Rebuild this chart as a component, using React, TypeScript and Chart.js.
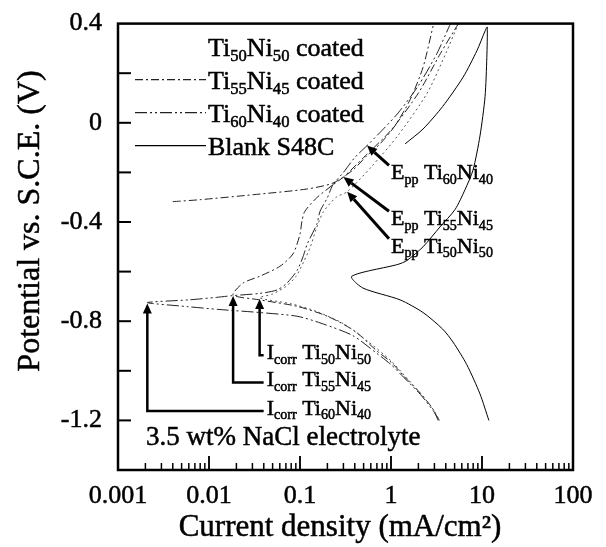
import React, { useEffect, useRef } from 'react';
import { Chart, registerables } from 'chart.js';
Chart.register(...registerables);

const FONT = '"Liberation Serif", "Times New Roman", serif';
const TEXT_STROKE = 0.5;

// ---- Data (current density mA/cm2, potential V vs SCE) ----
const blankI = [11.9, 9.5, 6.8, 4.8, 3.7, 2.25, 1.26, 0.49, 0.37, 1.19, 1.5, 2.25, 3.45, 5.05, 6.5, 7.96, 9.5, 10.8, 11.3, 11.4, 10.8, 8.8, 6.2, 3.7, 2.25, 1.43];
const blankV = [-1.2, -1.093, -0.975, -0.884, -0.832, -0.765, -0.714, -0.666, -0.619, -0.571, -0.555, -0.5, -0.42, -0.35, -0.27, -0.191, -0.053, 0.105, 0.264, 0.386, 0.37, 0.291, 0.184, 0.066, -0.025, -0.085];

const ti60I = [3.4, 2.9, 2.1, 1.5, 1.0, 0.7, 0.38, 0.17, 0.093, 0.036, 0.0132, 0.0057, 0.0021, 0.006, 0.012, 0.018, 0.036, 0.056, 0.072, 0.093, 0.108, 0.12, 0.153, 0.166, 0.2, 0.23, 0.3, 0.4, 0.545, 0.8, 1.2, 2.0, 3.2, 4.5];
const ti60V = [-1.2, -1.16, -1.095, -1.04, -0.975, -0.93, -0.858, -0.808, -0.78, -0.765, -0.753, -0.741, -0.725, -0.714, -0.704, -0.697, -0.688, -0.674, -0.646, -0.595, -0.54, -0.489, -0.409, -0.357, -0.302, -0.25, -0.2, -0.14, -0.092, -0.03, 0.04, 0.15, 0.28, 0.4];

const ti55I = [3.3, 2.9, 2.1, 1.5, 1.0, 0.7, 0.4, 0.2, 0.093, 0.036, 0.0184, 0.0237, 0.036, 0.06, 0.084, 0.1, 0.105, 0.113, 0.153, 0.23, 0.3, 0.5, 1.0, 2.0, 3.5, 5.5];
const ti55V = [-1.2, -1.155, -1.09, -1.035, -0.965, -0.92, -0.84, -0.78, -0.74, -0.714, -0.694, -0.646, -0.619, -0.579, -0.528, -0.449, -0.397, -0.357, -0.302, -0.25, -0.219, -0.14, -0.03, 0.12, 0.28, 0.4];
const ti55RevI = [0.004, 0.008, 0.0305, 0.119, 0.23, 0.38, 0.545, 0.757, 1.1, 1.62, 2.25, 2.9];
const ti55RevV = [-0.318, -0.31, -0.29, -0.267, -0.243, -0.191, -0.132, -0.085, -0.013, 0.093, 0.224, 0.39];

const ti50I = [3.3, 2.9, 2.1, 1.5, 1.0, 0.55, 0.3, 0.15, 0.08, 0.036, 0.05, 0.07, 0.09, 0.11, 0.13, 0.15, 0.18, 0.25, 0.33, 0.6, 1.2, 2.5, 4.0, 5.5];
const ti50V = [-1.19, -1.155, -1.09, -1.03, -0.96, -0.88, -0.81, -0.76, -0.73, -0.706, -0.69, -0.66, -0.62, -0.56, -0.5, -0.43, -0.36, -0.3, -0.278, -0.18, -0.05, 0.12, 0.28, 0.4];

// annotations (data coordinates)
const icorrI = [0.036, 0.0184, 0.0021];
const icorrE = [-0.706, -0.694, -0.725];
const icorrLabelE = [-0.925, -1.035, -1.15];
const icorrLabelX = 0.043;
const icorrSubs = [['50', '50'], ['55', '45'], ['60', '40']];

const eppI = [0.545, 0.3, 0.33];
const eppE = [-0.092, -0.219, -0.278];
const eppLabelE = [-0.2, -0.385, -0.496];
const eppLabelX = 1.0;
const eppSubs = [['60', '40'], ['55', '45'], ['50', '50']];

const noteX = 0.00203;
const noteE = -1.263;

const xDecades = [0.001, 0.01, 0.1, 1, 10, 100];
const yTickValues = [-1.2, -0.8, -0.4, 0, 0.4];
const yMinorValues = [-1.2, -1.0, -0.8, -0.6, -0.4, -0.2, 0, 0.2];

const legendItems = [
  { segs: [['Ti', 0], ['50', 1], ['Ni', 0], ['50', 1], [' coated', 0]], ds: 0 },
  { segs: [['Ti', 0], ['55', 1], ['Ni', 0], ['45', 1], [' coated', 0]], ds: 1 },
  { segs: [['Ti', 0], ['60', 1], ['Ni', 0], ['40', 1], [' coated', 0]], ds: 3 },
  { segs: [['Blank S48C', 0]], ds: 4 },
];

const zip = (xs: number[], ys: number[]) => xs.map((x, i) => ({ x, y: ys[i] }));

function text(ctx: CanvasRenderingContext2D, t: string, x: number, y: number) {
  ctx.fillText(t, x, y);
  ctx.save();
  ctx.lineWidth = TEXT_STROKE;
  ctx.setLineDash([]);
  ctx.strokeText(t, x, y);
  ctx.restore();
}

function drawRich(ctx: CanvasRenderingContext2D, segs: any[], x: number, baseline: number, size: number) {
  let cx = x;
  ctx.textAlign = 'left';
  ctx.textBaseline = 'alphabetic';
  for (const [t, k] of segs) {
    const s = k ? size * 0.64 : size;
    ctx.font = `${s}px ${FONT}`;
    const dy = k === 1 ? size * 0.2 : k === 2 ? -size * 0.38 : 0;
    text(ctx, t, cx, baseline + dy);
    cx += ctx.measureText(t).width;
  }
  return cx;
}

function arrow(ctx: CanvasRenderingContext2D, x1: number, y1: number, x2: number, y2: number, w: number) {
  const ang = Math.atan2(y2 - y1, x2 - x1);
  const hl = 10, hw = 4.5;
  const bx = x2 - hl * Math.cos(ang), by = y2 - hl * Math.sin(ang);
  ctx.lineWidth = w;
  ctx.beginPath(); ctx.moveTo(x1, y1); ctx.lineTo(bx, by); ctx.stroke();
  ctx.beginPath();
  ctx.moveTo(x2, y2);
  ctx.lineTo(bx + hw * Math.sin(ang), by - hw * Math.cos(ang));
  ctx.lineTo(bx - hw * Math.sin(ang), by + hw * Math.cos(ang));
  ctx.closePath(); ctx.fill();
}

const decor = {
  id: 'decor',
  beforeDraw(chart: any) {
    const { ctx, width, height } = chart;
    ctx.save(); ctx.fillStyle = '#fff'; ctx.fillRect(0, 0, width, height); ctx.restore();
  },
  afterDatasetsDraw(chart: any) {
    const { ctx, chartArea: a, scales } = chart;
    const xs = scales.x, ys = scales.y;
    const px = (v: number) => xs.getPixelForValue(v);
    const py = (v: number) => ys.getPixelForValue(v);
    ctx.save();
    ctx.strokeStyle = '#000'; ctx.fillStyle = '#000';
    // frame
    ctx.lineWidth = 2.5;
    ctx.strokeRect(a.left, a.top, a.right - a.left, a.bottom - a.top);
    // y ticks (inward)
    ctx.lineWidth = 2;
    for (const v of yMinorValues) {
      const yy = py(v);
      ctx.beginPath(); ctx.moveTo(a.left, yy); ctx.lineTo(a.left + 13, yy); ctx.stroke();
    }
    // x ticks (inward, log minor)
    ctx.lineWidth = 1.5;
    for (const d of xDecades.slice(0, -1)) {
      for (let m = 1; m <= 10; m++) {
        const xx = px(d * m);
        const len = m === 1 || m === 10 ? 14 : 7;
        ctx.beginPath(); ctx.moveTo(xx, a.bottom); ctx.lineTo(xx, a.bottom - len); ctx.stroke();
      }
    }
    // legend
    const lx0 = a.left + 17, lx1 = a.left + 88;
    legendItems.forEach((it, i) => {
      const cy = a.top + 23 + i * 33;
      const ds = chart.data.datasets[it.ds];
      if (i > 0) {
        ctx.save();
        ctx.strokeStyle = ds.borderColor; ctx.lineWidth = 1.2;
        ctx.setLineDash(ds.borderDash || []);
        ctx.beginPath(); ctx.moveTo(lx0, cy); ctx.lineTo(lx1, cy); ctx.stroke();
        ctx.restore();
      }
      drawRich(ctx, it.segs, lx1 + 2, cy + 9, 26);
    });
    // Icorr arrows and labels
    const lxI = px(icorrLabelX);
    icorrI.forEach((I, i) => {
      const tx = px(I), ty = py(icorrE[i]) + 1;
      const ly = py(icorrLabelE[i]);
      ctx.lineWidth = 2.5;
      ctx.beginPath(); ctx.moveTo(lxI - 3, ly + 3); ctx.lineTo(tx, ly + 3); ctx.lineTo(tx, ty + 8); ctx.stroke();
      arrow(ctx, tx, ty + 10, tx, ty, 2.5);
      drawRich(ctx, [['I', 0], ['corr', 1], [' Ti', 0], [icorrSubs[i][0], 1], ['Ni', 0], [icorrSubs[i][1], 1]], lxI, ly + 7, 22);
    });
    // Epp arrows and labels
    const lxE = px(eppLabelX);
    eppI.forEach((I, i) => {
      const tx = px(I), ty = py(eppE[i]);
      const ly = py(eppLabelE[i]);
      arrow(ctx, lxE - 2, ly - 7, tx, ty, 3);
      drawRich(ctx, [['E', 0], ['pp', 1], [' Ti', 0], [eppSubs[i][0], 1], ['Ni', 0], [eppSubs[i][1], 1]], lxE, ly + 7, 22);
    });
    // note
    drawRich(ctx, [['3.5 wt% NaCl electrolyte', 0]], px(noteX), py(noteE) + 9, 27);
    // axis titles
    ctx.font = `31px ${FONT}`;
    ctx.textAlign = 'center'; ctx.textBaseline = 'alphabetic';
    text(ctx, 'Current density (mA/cm\u00B2)', 340, 536);
    ctx.save();
    ctx.translate(39, 221);
    ctx.rotate(-Math.PI / 2);
    ctx.font = `32px ${FONT}`;
    text(ctx, 'Potential vs. S.C.E. (V)', 0, 0);
    ctx.restore();
    ctx.restore();
  },
};

export default function App() {
  const ref = useRef<HTMLCanvasElement>(null);
  useEffect(() => {
    document.body.style.margin = '0';
    const lineDs = (label: string, data: any[], dash: number[], color: string, w = 1) => ({
      label, data, borderColor: color, borderWidth: w, borderDash: dash,
      pointRadius: 0, fill: false, tension: 0.25, cubicInterpolationMode: 'default',
    });
    const tickFont = { family: FONT, size: 26 };
    const chart = new Chart(ref.current!, {
      type: 'line',
      data: {
        datasets: [
          lineDs('Ti50Ni50 coated', zip(ti50I, ti50V), [2, 3], '#555'),
          lineDs('Ti55Ni45 coated', zip(ti55I, ti55V), [8, 3, 2, 3], '#222'),
          lineDs('Ti55Ni45 coated (reverse)', zip(ti55RevI, ti55RevV), [8, 3, 2, 3], '#222'),
          lineDs('Ti60Ni40 coated', zip(ti60I, ti60V), [12, 3, 2, 3, 2, 3], '#222'),
          lineDs('Blank S48C', zip(blankI, blankV), [], '#000'),
        ] as any,
      },
      options: {
        animation: false,
        responsive: false,
        devicePixelRatio: 1,
        layout: { padding: { top: 15, right: 33, left: 0, bottom: 0 } },
        plugins: { legend: { display: false }, tooltip: { enabled: false } },
        scales: {
          x: {
            type: 'logarithmic', min: 0.001, max: 100,
            grid: { display: false }, border: { display: false },
            afterBuildTicks: (s: any) => { s.ticks = xDecades.map((value) => ({ value })); },
            afterFit: (s: any) => { s.height = 77; },
            ticks: {
              autoSkip: false, maxRotation: 0, padding: 3, color: '#000',
              textStrokeColor: '#000', textStrokeWidth: TEXT_STROKE,
              font: tickFont,
              callback: (v: any) => String(Number(v)),
            },
          },
          y: {
            type: 'linear', min: -1.4, max: 0.4,
            grid: { display: false }, border: { display: false },
            afterBuildTicks: (s: any) => { s.ticks = yTickValues.map((value) => ({ value })); },
            afterFit: (s: any) => { s.width = 118; },
            ticks: {
              padding: 8, color: '#000',
              textStrokeColor: '#000', textStrokeWidth: TEXT_STROKE,
              font: tickFont,
              callback: (v: any) => (Number(v) === 0 ? '0' : Number(v).toFixed(1)),
            },
          },
        },
      } as any,
      plugins: [decor],
    });
    return () => chart.destroy();
  }, []);
  return (
    <div style={{ position: 'absolute', left: 0, top: 0, width: 606, height: 547 }}>
      <canvas ref={ref} width={606} height={547} style={{ display: 'block' }} />
    </div>
  );
}
